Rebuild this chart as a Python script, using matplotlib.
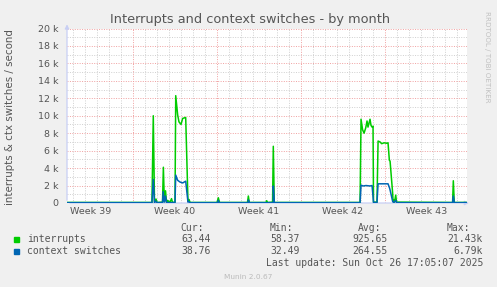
#!/usr/bin/env python

import matplotlib
matplotlib.use('Agg')
import matplotlib.pyplot as plt

# x positions are days since Mon Sep 22 2025 00:00 (start of week 39)
week_labels = ['Week 39', 'Week 40', 'Week 41', 'Week 42', 'Week 43']
week_label_days = [3.5, 10.5, 17.5, 24.5, 31.5]
y_ticks = [0, 2000, 4000, 6000, 8000, 10000, 12000, 14000, 16000, 18000, 20000]
y_tick_labels = ['0', '2 k', '4 k', '6 k', '8 k', '10 k', '12 k', '14 k', '16 k', '18 k', '20 k']

# interrupts, per second
int_days = [1.5, 8.58, 8.69, 8.79, 8.92, 9.0, 9.46, 9.53, 9.61, 9.71, 9.79, 9.88,
            10.08, 10.21, 10.29, 10.5, 10.56, 10.72, 10.83, 11.0, 11.14, 11.39,
            11.58, 11.67, 11.75, 14.0, 14.11, 14.21, 16.54, 16.61, 16.69, 18.08,
            18.14, 18.21, 18.63, 18.69, 18.77, 18.83, 25.92, 26.0, 26.13, 26.25,
            26.39, 26.5, 26.58, 26.75, 26.83, 26.92, 27.0, 27.04, 27.33, 27.42,
            27.58, 27.72, 27.92, 28.14, 28.25, 28.36, 28.42, 28.63, 28.67, 28.73,
            28.79, 28.89, 28.96, 33.63, 33.69, 33.77, 34.83]
int_vals = [60, 60, 10000, 100, 450, 60, 100, 4100, 200, 1400, 100, 300,
            60, 500, 60, 100, 12300, 10100, 9300, 9000, 9700, 9800,
            200, 400, 60, 60, 600, 60, 60, 800, 60, 60,
            260, 60, 100, 6500, 100, 60, 60, 9600, 8400, 8000,
            8600, 9400, 8700, 9600, 8900, 8700, 8800, 100, 100, 7100,
            7000, 6800, 6900, 6850, 6900, 4900, 4800, 1200, 200, 350,
            100, 900, 100, 60, 2550, 60, 63]

# context switches, per second
ctx_days = [1.5, 8.58, 8.69, 8.79, 8.92, 9.0, 9.46, 9.51, 9.61, 9.71, 9.79, 10.08,
            10.5, 10.56, 10.72, 10.92, 11.14, 11.39, 11.58, 11.67, 11.75, 14.08,
            14.11, 14.17, 16.61, 16.61, 16.69, 18.69, 18.69, 18.77, 25.92, 26.0,
            26.17, 26.42, 26.75, 26.92, 27.04, 27.33, 27.42, 28.25, 28.38, 28.42,
            28.64, 28.73, 28.89, 28.96, 33.63, 33.69, 33.77, 34.83]
ctx_vals = [39, 39, 2700, 60, 200, 39, 50, 1300, 100, 800, 60, 39,
            60, 3200, 2600, 2400, 2300, 2500, 100, 150, 39, 39,
            300, 39, 39, 350, 39, 39, 1950, 39, 39, 2050,
            1950, 2000, 1950, 2000, 60, 60, 2200, 2200, 1700, 1500,
            150, 60, 300, 39, 39, 800, 39, 39]

legend_rows = [('interrupts', '#00CC00', '63.44', '58.37', '925.65', '21.43k'),
               ('context switches', '#0066B3', '38.76', '32.49', '264.55', '6.79k')]

W, H = 497, 287
text_col = '#555555'


def px(x, y):
    # pixel position -> figure fraction
    return x / W, 1 - y / H


fig = plt.figure(figsize=(W / 100, H / 100), dpi=100, facecolor='#F0F0F0')
ax = fig.add_axes([67 / W, 1 - 203 / H, 400 / W, 174.5 / H], facecolor='white')
ax.set_xlim(1.5, 34.83)
ax.set_ylim(0, 20000)

# minor grid: every day / every 1 k
for d in range(2, 35):
    if d % 7:
        ax.axvline(d, color='#CFCFCF', lw=0.7, ls=(0, (1, 1.5)), zorder=1)
for v in range(1000, 20001, 2000):
    ax.axhline(v, color='#CFCFCF', lw=0.7, ls=(0, (1, 1.5)), zorder=1)
# major grid: week starts / every 2 k
for d in [7, 14, 21, 28]:
    ax.axvline(d, color='#F0A0A0', lw=0.7, ls=(0, (1, 1.5)), zorder=1)
for v in y_ticks[1:]:
    ax.axhline(v, color='#F0A0A0', lw=0.7, ls=(0, (1, 1.5)), zorder=1)

ax.plot(int_days, int_vals, color='#00CC00', lw=1.1, zorder=3)
ax.plot(ctx_days, ctx_vals, color='#0066B3', lw=1.1, zorder=4)

for s in ax.spines.values():
    s.set_visible(False)
ax.set_yticks(y_ticks, y_tick_labels)
ax.set_xticks(week_label_days, week_labels)
ax.tick_params(length=0, labelsize=6.8, colors=text_col)
ax.tick_params(axis='y', pad=6)
ax.tick_params(axis='x', pad=3)

# axis arrows
arrow_col = '#C8CFF4'
ax.annotate('', xy=(0, 1.04), xytext=(0, 0), xycoords='axes fraction',
            arrowprops=dict(arrowstyle='-|>', color=arrow_col, lw=0.9, mutation_scale=6))
ax.annotate('', xy=(1.012, 0), xytext=(0, 0), xycoords='axes fraction',
            arrowprops=dict(arrowstyle='-|>', color=arrow_col, lw=0.9, mutation_scale=6),
            zorder=2)

# title and side texts
fig.text(*px(250, 19), 'Interrupts and context switches - by month',
         ha='center', va='center', fontsize=9.3, color=text_col)
fig.text(*px(10.5, 117), 'interrupts & ctx switches / second', rotation=90,
         ha='center', va='center', fontsize=7.4, color=text_col)
fig.text(*px(487, 57), 'RRDTOOL / TOBI OETIKER', rotation=270,
         ha='center', va='center', fontsize=5.1, color='#C0C0C0')

# legend table
mono = 'DejaVu Sans Mono'
col_right = [211, 300, 388, 483]
for x, h in zip([204, 293, 381, 470], ['Cur:', 'Min:', 'Avg:', 'Max:']):
    fig.text(*px(x, 228), h, ha='right', va='center', family=mono, fontsize=7, color=text_col)
for i, row in enumerate(legend_rows):
    y = 239.5 + i * 12
    fig.patches.append(plt.Rectangle(px(14, y + 2.5), 5 / W, 5 / H, color=row[1],
                                     transform=fig.transFigure, figure=fig))
    fig.text(*px(27, y), row[0], ha='left', va='center', family=mono, fontsize=7, color=text_col)
    for x, val in zip(col_right, row[2:]):
        fig.text(*px(x, y), val, ha='right', va='center', family=mono, fontsize=7, color=text_col)
fig.text(*px(483, 263.5), 'Last update: Sun Oct 26 17:05:07 2025', ha='right', va='center',
         family=mono, fontsize=7, color=text_col)
fig.text(*px(248, 277), 'Munin 2.0.67', ha='center', va='center', fontsize=5.3, color='#BBBBBB')

plt.savefig('out.png', dpi=100, facecolor=fig.get_facecolor())
